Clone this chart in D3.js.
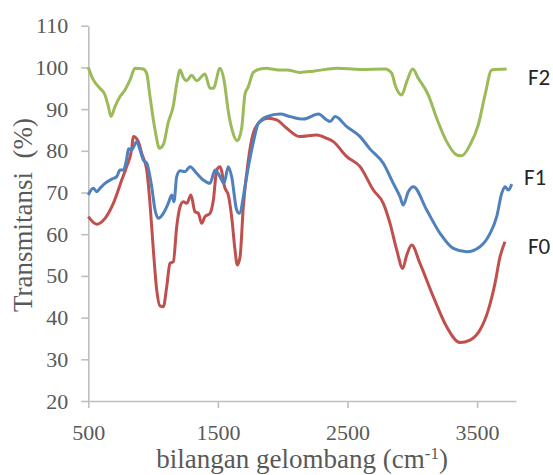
<!DOCTYPE html>
<html>
<head>
<meta charset="utf-8">
<script src="https://cdn.jsdelivr.net/npm/d3@7"></script>
<style>
  body { margin: 0; background: #fff; }
  .axis path, .axis line { stroke: #bfbfbf; stroke-width: 1.6px; }
  .axis text { font-family: "Liberation Serif", "Times New Roman", serif; font-size: 22px; fill: #595959; }
  .title { font-family: "Liberation Serif", "Times New Roman", serif; font-size: 27px; fill: #595959; }
  .label { font-family: Carlito, Calibri, Lato, "Liberation Sans", sans-serif; font-size: 23px; fill: #262626; }
</style>
</head>
<body>
<script>
// Chart size
var svgWidth = 553;
var svgHeight = 475;

// Plot area
var margin = { top: 25.7, right: 37, bottom: 74, left: 88.3 };

// Tick values
var xTicks = [500, 1500, 2500, 3500];
var yTicks = [20, 30, 40, 50, 60, 70, 80, 90, 100, 110];

// Series names
var seriesNames = ["F0", "F1", "F2"];

// F2 spectrum [wavenumber, transmittance]
var f2 = [[500,100],[539,97],[590,95],[629,93.4],[655,90.6],[675,88.2],[706,90.6],[745,93],[783,94.6],
  [822,97],[860,99.8],[924,99.6],[951,98.5],[976,93],[1015,85],[1049,80.6],[1079,81.5],[1117,86.8],
  [1156,90.8],[1182,96],[1208,99.4],[1233,97.6],[1259,96.8],[1297,98.1],[1336,96.8],[1400,98.4],
  [1439,95],[1465,95],[1516,99.8],[1547,97],[1580,89.5],[1619,84],[1650,82.4],[1684,85.6],[1709,93.6],
  [1735,95.4],[1773,98.8],[1825,99.6],[1877,99.8],[1915,99.6],[1966,99.4],[2031,99.4],[2133,98.8],
  [2236,99.1],[2417,99.8],[2597,99.5],[2790,99.6],[2841,98.6],[2867,95.8],[2918,93.4],[2957,96.6],
  [3003,99.6],[3046,97.4],[3123,93.4],[3188,87.8],[3265,82.2],[3343,79],[3381,78.8],[3445,81.4],
  [3509,86.2],[3561,93.4],[3613,99.4],[3728,99.6]];

// F1 spectrum
var f1 = [[500,69.4],[539,71],[565,70.2],[590,71],[629,72.2],[681,73.2],[719,73.8],[745,75.4],[770,75.4],
  [796,78],[810,80.5],[835,80.2],[873,82.2],[899,80.2],[924,77.8],[951,77],[989,71.4],[1015,65.8],
  [1040,63.8],[1079,65],[1117,67.4],[1144,69.4],[1161,67.8],[1182,73.8],[1208,75.2],[1246,75],
  [1285,76.2],[1336,74.6],[1387,73],[1439,72.2],[1478,75.4],[1516,73.8],[1547,72.2],[1580,76.2],
  [1606,73.8],[1645,65.8],[1665,65],[1709,71.4],[1735,76.2],[1773,82],[1812,86.6],[1877,88.2],
  [1980,88.8],[2057,88.2],[2159,87.6],[2275,88.8],[2340,87.4],[2365,87],[2404,88.2],[2494,85.8],
  [2597,83.4],[2674,80.4],[2776,77],[2853,72.2],[2905,69],[2930,67],[2969,70.2],[3008,71.4],
  [3111,65.8],[3214,60.2],[3316,56.6],[3420,55.8],[3522,57],[3600,60.2],[3651,64.2],[3690,69.8],
  [3715,71.4],[3741,70.6],[3767,72]];

// F0 spectrum
var f0 = [[500,64.2],[565,62.4],[629,63.8],[693,67.4],[758,73],[796,76.2],[835,80.5],[847,83.4],
  [886,82.2],[912,79.4],[951,75.4],[976,67.4],[1002,56.2],[1028,46.6],[1053,42.8],[1079,42.6],
  [1105,47.4],[1130,53],[1156,53.4],[1182,61.8],[1208,66.6],[1233,67.8],[1259,67.4],[1292,69.4],
  [1323,65.4],[1349,65],[1375,62.6],[1400,64.2],[1439,65],[1465,68.2],[1491,75.4],[1516,76.2],
  [1555,71],[1580,69.4],[1606,64.2],[1632,56.2],[1650,52.6],[1671,54.6],[1696,66.6],[1735,77.8],
  [1773,84.2],[1825,87],[1889,87.8],[1954,87.4],[2031,85.4],[2133,83.4],[2262,83.8],[2340,83],
  [2390,82.2],[2494,78.6],[2597,76.2],[2699,70.6],[2776,67.4],[2828,62.6],[2880,56.2],[2926,51.8],
  [2957,55],[2995,57.4],[3059,53],[3162,45],[3265,37.8],[3367,34],[3445,34.6],[3522,37],[3586,41.8],
  [3638,48.2],[3677,54.6],[3715,58.2]];

var series = [
  { name: seriesNames[0], values: f0, color: "#c0504d", labelX: 528, labelY: 254 },
  { name: seriesNames[1], values: f1, color: "#4f81bd", labelX: 524, labelY: 185 },
  { name: seriesNames[2], values: f2, color: "#9bbb59", labelX: 528, labelY: 85 }
];

var chartWidth = svgWidth - margin.left - margin.right;
var chartHeight = svgHeight - margin.top - margin.bottom;

var svg = d3.select("body")
  .append("svg")
  .attr("width", svgWidth)
  .attr("height", svgHeight);

var chartGroup = svg.append("g")
  .attr("transform", `translate(${margin.left}, ${margin.top})`);

// Scales
var x = d3.scaleLinear().domain([500, 3800]).range([0, chartWidth]);
var y = d3.scaleLinear().domain([20, 110]).range([chartHeight, 0]);

// Axes
chartGroup.append("g")
  .attr("class", "axis")
  .attr("transform", "translate(0," + chartHeight + ")")
  .call(d3.axisBottom(x).tickValues(xTicks).tickFormat(d3.format("d"))
    .tickSize(7).tickSizeOuter(0).tickPadding(16));

chartGroup.append("g")
  .attr("class", "axis")
  .call(d3.axisLeft(y).tickValues(yTicks).tickSize(7).tickSizeOuter(0).tickPadding(13));

// Lines
var line = d3.line()
  .x(function(d) { return x(d[0]); })
  .y(function(d) { return y(d[1]); })
  .curve(d3.curveMonotoneX);

chartGroup.selectAll(".series")
  .data(series)
  .enter()
  .append("path")
  .attr("class", "series")
  .attr("d", function(d) { return line(d.values); })
  .attr("fill", "none")
  .attr("stroke", function(d) { return d.color; })
  .attr("stroke-width", 3)
  .attr("stroke-linejoin", "round");

// Series labels
svg.selectAll(".label")
  .data(series)
  .enter()
  .append("text")
  .attr("class", "label")
  .attr("x", function(d) { return d.labelX; })
  .attr("y", function(d) { return d.labelY; })
  .text(function(d) { return d.name; });

// x axis title
var xTitle = svg.append("text")
  .attr("class", "title")
  .attr("x", margin.left + chartWidth / 2)
  .attr("y", 468)
  .attr("text-anchor", "middle");
xTitle.append("tspan").text("bilangan gelombang (cm");
xTitle.append("tspan").attr("dy", -9).style("font-size", "17px").text("-1");
xTitle.append("tspan").attr("dy", 9).text(")");

// y axis title
svg.append("text")
  .attr("class", "title")
  .attr("transform", "rotate(-90)")
  .attr("x", -215)
  .attr("y", 32)
  .attr("text-anchor", "middle")
  .text("Transmitansi  (%)")
  .style("white-space", "pre");
</script>
</body>
</html>
